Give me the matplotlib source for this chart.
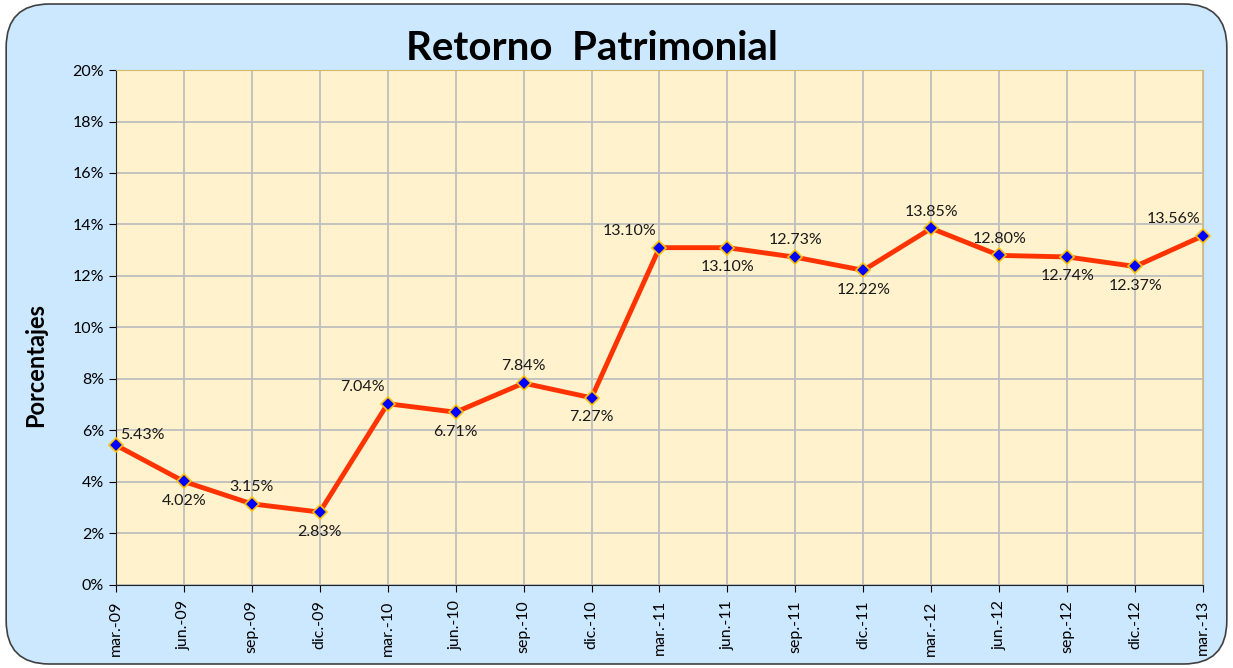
import matplotlib.pyplot as plt
from matplotlib.patches import FancyBboxPatch
from matplotlib.ticker import FuncFormatter

plt.rcParams['font.family'] = ['Lato', 'DejaVu Sans']

# Datos
periodos = ["mar.-09", "jun.-09", "sep.-09", "dic.-09", "mar.-10", "jun.-10",
            "sep.-10", "dic.-10", "mar.-11", "jun.-11", "sep.-11", "dic.-11",
            "mar.-12", "jun.-12", "sep.-12", "dic.-12", "mar.-13"]
retorno = [5.43, 4.02, 3.15, 2.83, 7.04, 6.71, 7.84, 7.27, 13.10, 13.10,
           12.73, 12.22, 13.85, 12.80, 12.74, 12.37, 13.56]
# posicion de cada etiqueta: arriba / abajo / arriba-izq / arriba-der
pos_etiqueta = ["ar_d", "ab", "ar", "ab", "ar_i", "ab", "ar", "ab", "ar_i", "ab",
                "ar", "ab", "ar", "ar", "ab", "ab", "ar_i"]

fig = plt.figure(figsize=(12.33, 6.68), dpi=100)
fig.patch.set_facecolor("white")

# Fondo redondeado
fondo = FancyBboxPatch((0.005, 0.006), 0.99, 0.988,
                       boxstyle="round,pad=0,rounding_size=0.035",
                       transform=fig.transFigure, facecolor="#CCE8FF",
                       edgecolor="#404040", linewidth=1.2, mutation_aspect=1.85,
                       zorder=-1)
fig.patches.append(fondo)

ax = fig.add_axes([0.094, 0.1243, 0.8817, 0.7709])
ax.set_facecolor("#FFF2CC")

x = list(range(len(periodos)))
ax.plot(x, retorno, color="#FF3300", linewidth=3.5, zorder=3,
        marker="D", markersize=7, markerfacecolor="#0000FF",
        markeredgecolor="#FFC000", markeredgewidth=1.2, clip_on=False)

fs = 11.5
for xi, v, p in zip(x, retorno, pos_etiqueta):
    txt = f"{v:.2f}%"
    if p == "ab":
        ax.annotate(txt, (xi, v), xytext=(0, -9), textcoords="offset points",
                    ha="center", va="top", fontsize=fs, color="#1a1a1a")
    elif p == "ar":
        ax.annotate(txt, (xi, v), xytext=(0, 7), textcoords="offset points",
                    ha="center", va="bottom", fontsize=fs, color="#1a1a1a")
    elif p == "ar_i":
        ax.annotate(txt, (xi, v), xytext=(-2, 7), textcoords="offset points",
                    ha="right", va="bottom", fontsize=fs, color="#1a1a1a")
    else:
        ax.annotate(txt, (xi, v), xytext=(3, 2), textcoords="offset points",
                    ha="left", va="bottom", fontsize=fs, color="#1a1a1a")

ax.set_xlim(0, len(periodos) - 1)
ax.set_ylim(0, 20)
ax.set_yticks(range(0, 21, 2))
ax.yaxis.set_major_formatter(FuncFormatter(lambda v, _: f"{v:.0f}%"))
ax.set_xticks(x)
ax.set_xticklabels(periodos, rotation=90, fontsize=11.5)
ax.tick_params(axis="y", labelsize=11.5, length=5, direction="out")
ax.tick_params(axis="x", length=5, direction="out", pad=6)

ax.grid(True, color="#BFBFBF", linewidth=1.3)
ax.set_axisbelow(True)
for lado in ["top", "right"]:
    ax.spines[lado].set_color("#D4B96A")
ax.spines["left"].set_color("#222222")
ax.spines["bottom"].set_color("#222222")

fig.text(0.029, 0.453, "Porcentajes", rotation=90, ha="center", va="center",
         fontsize=17, fontweight="bold")
fig.text(0.48, 0.928, "Retorno  Patrimonial", ha="center", va="center",
         fontsize=29, fontweight="bold")

fig.savefig("out.png", dpi=100)
